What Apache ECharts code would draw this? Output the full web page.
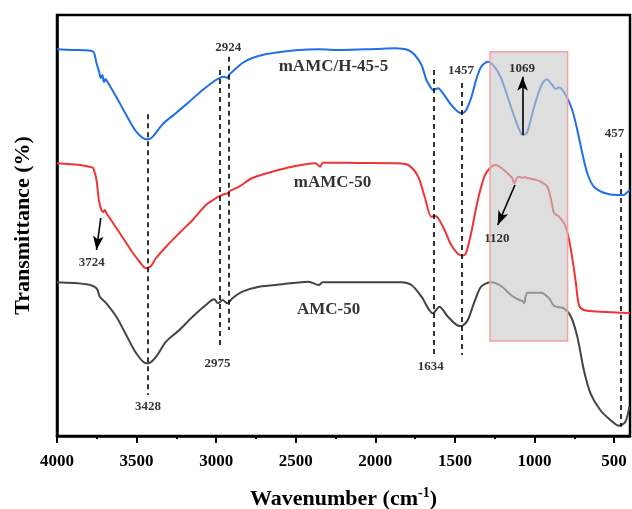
<!DOCTYPE html>
<html>
<head>
<meta charset="utf-8">
<script src="https://cdn.jsdelivr.net/npm/echarts@6/dist/echarts.min.js"></script>
<style>html,body{margin:0;padding:0;background:#fff}#c{width:632px;height:509px}</style>
</head>
<body>
<div id="c"></div>
<script>
// ---- data (wavenumber cm-1, relative transmittance) ----
const blueName = 'mAMC/H-45-5';
const bluePts = [[4000,386.7],[3900,386],[3800,385.5],[3770,384],[3752,373],[3735,364],[3725,358],[3715,361],[3705,354],[3695,357],[3690,356],[3627,339],[3565,321],[3502,304.3],[3440,296.7],[3420,297],[3398,299.3],[3335,312],[3252,323],[3169,334.3],[3085,346],[3002,356],[2981,357.7],[2965,359],[2950,359.3],[2929,358],[2915,362],[2898,364.3],[2835,373],[2773,378],[2690,381.7],[2585,384.3],[2481,386],[2356,386.7],[2210,386],[2000,387],[1877,387.7],[1794,386],[1752,381],[1710,371],[1679,356],[1650,348],[1638,346],[1620,347],[1606,347.7],[1575,342.7],[1523,331],[1471,323.3],[1450,323],[1429,326],[1398,338],[1367,356],[1335,369.3],[1294,374.3],[1252,369.3],[1210,358],[1169,339.3],[1127,319.3],[1095,306],[1075,301],[1055,302],[1044,304.3],[1002,329.3],[960,349.3],[923,356.7],[888,351],[867,347],[846,348.7],[804,341],[763,326],[731,306],[700,283],[669,263],[627,249.3],[565,243.3],[481,241],[440,241],[414,244.3],[400,246]];
const redName = 'mAMC-50';
const redPts = [[4000,272.7],[3856,271],[3790,269],[3773,268],[3752,256],[3737,236],[3721,226],[3710,224],[3700,226],[3690,223],[3648,213],[3606,203],[3565,193],[3523,183],[3480,174],[3440,167.7],[3410,170],[3377,178],[3315,189.3],[3231,203],[3148,216],[3065,231],[3010,237],[2987,239.3],[2970,240.5],[2955,241.5],[2929,242.7],[2915,245],[2856,249.3],[2773,258],[2648,264.3],[2523,269.3],[2377,272.7],[2346,269.3],[2330,273.3],[2100,273],[1877,272.7],[1794,271],[1731,259.3],[1690,239.3],[1648,219.3],[1625,220],[1606,218],[1565,206],[1523,191],[1471,181],[1450,180.5],[1430,183],[1398,203],[1356,236],[1315,259.3],[1280,268],[1244,271],[1200,267],[1169,262.7],[1140,258],[1127,252.7],[1110,258],[1096,259.3],[1075,258],[1060,259],[1044,258],[1000,256.5],[960,254.3],[919,249.3],[890,232],[877,222.7],[846,219.3],[804,209.3],[771,186],[740,153],[721,131],[690,126],[587,124.3],[400,123]];
const grayName = 'AMC-50';
const grayPts = [[4000,153.7],[3815,151.7],[3752,147.7],[3731,139.3],[3690,132.7],[3627,119.3],[3565,101],[3502,82.7],[3440,72.7],[3420,73],[3377,79.3],[3315,94.3],[3231,106],[3148,119.3],[3065,131],[3013,136.7],[2987,132.7],[2960,136],[2929,132.7],[2898,137.7],[2835,144.3],[2731,149.3],[2585,151.7],[2419,154.3],[2356,151],[2330,153.7],[1835,153.7],[1773,151],[1710,139.3],[1638,122.7],[1598,129.3],[1544,119.3],[1471,110],[1450,110.5],[1419,116],[1377,134.3],[1335,149.3],[1273,153.7],[1210,150],[1148,141],[1096,136],[1075,135],[1065,132.7],[1055,140],[1044,143.3],[960,143.3],[908,137.7],[877,130],[815,127.7],[771,119.3],[731,99.3],[690,66],[648,42.7],[587,26],[523,16],[469,10.3],[429,14.3],[404,29.3]];

const majorTicks = [4000,3500,3000,2500,2000,1500,1000,500];
const minorTicks = [3750,3250,2750,2250,1750,1250,750];

const peakWn = [3428, 2975, 2924, 1634, 1457, 457];
const peakTop = [321.7, 366, 379.3, 366, 353, 283];
const peakBottom = [41, 89.3, 106, 79.3, 81, 9.3];

const peakLabels = [['3428',3428,29.3],['2975',2992,72.7],['2924',2924,388],['1634',1652,69.3],['1457',1461,365],['1069',1079,367],['1120',1236,197.7],['457',498,302],['3724',3781,173.3]];
const curveLabels = [['mAMC/H-45-5',2263,369.3],['mAMC-50',2269,253.3],['AMC-50',2294,126]];

// arrows: [fromWn, fromT, toWn, toT]
const arrows = [[3725,218,3752,186],[1075,301,1075,359.3],[1123,251,1231,211]];

// highlighted region [wnStart, wnEnd, tBottom, tTop]
const region = [1279, 792, 95, 384.3];

const FONT = '"Liberation Serif","Times New Roman",serif';

const chart = echarts.init(document.getElementById('c'), null, {renderer:'canvas'});

const lineSeries = (name, pts, color) => ({
  name, type:'line', data: pts, showSymbol:false, symbol:'none', smooth:0.3,
  lineStyle:{color, width:2}, z:2, animation:false
});

const option = {
  animation:false,
  backgroundColor:'#fff',
  grid:{left:57, right:2, top:15, bottom:73, outerBoundsMode:'none', containLabel:false, show:true, borderColor:'#000', borderWidth:2.5, backgroundColor:'transparent'},
  xAxis:[{
    type:'value', inverse:true, min:400, max:4000,
    axisLine:{show:true, onZero:false, lineStyle:{color:'#000', width:2.5}},
    axisTick:{show:true, inside:false, length:7, lineStyle:{color:'#000', width:2}, customValues: majorTicks},
    axisLabel:{show:true, margin:17, fontFamily:FONT, fontWeight:'bold', fontSize:17, color:'#000', customValues: majorTicks, formatter: v => String(v)},
    splitLine:{show:false},
    name:'Wavenumber (cm{sup|-1})', nameLocation:'middle', nameGap:50,
    nameTextStyle:{fontFamily:FONT, fontWeight:'bold', fontSize:22, color:'#000',
      rich:{sup:{fontFamily:FONT, fontWeight:'bold', fontSize:14, color:'#000', padding:[0,0,12,0]}}}
  },{
    type:'value', inverse:true, min:400, max:4000, position:'bottom',
    axisLine:{show:false, onZero:false},
    axisTick:{show:true, inside:false, length:3, lineStyle:{color:'#000', width:2}, customValues: minorTicks},
    axisLabel:{show:false},
    splitLine:{show:false}
  }],
  yAxis:{
    type:'value', min:0, max:421,
    axisLine:{show:true, lineStyle:{color:'#000', width:2.5}},
    axisTick:{show:false}, axisLabel:{show:false}, splitLine:{show:false},
    name:'Transmittance (%)', nameLocation:'middle', nameGap:23,
    nameTextStyle:{fontFamily:FONT, fontWeight:'bold', fontSize:22, color:'#000'}
  },
  series:[
    lineSeries(blueName, bluePts, '#1F6FE6'),
    lineSeries(redName, redPts, '#EE3535'),
    lineSeries(grayName, grayPts, '#444444'),
    {
      type:'custom', z:3, silent:true, data:[region],
      renderItem:(params, api) => {
        const p0 = api.coord([api.value(0), api.value(3)]);
        const p1 = api.coord([api.value(1), api.value(2)]);
        return {type:'rect', shape:{x:Math.min(p0[0],p1[0]), y:Math.min(p0[1],p1[1]), width:Math.abs(p1[0]-p0[0]), height:Math.abs(p1[1]-p0[1])},
          style:{fill:'rgba(200,200,200,0.6)', stroke:'#F4A0A0', lineWidth:1.5}};
      },
      encode:{x:[0,1], y:[2,3]}
    },
    {
      type:'line', data:[], z:11, silent:true,
      markLine:{silent:true, z:11, symbol:['none','none'], label:{show:false},
        lineStyle:{color:'#000', type:[5,4], width:1.6},
        data: peakWn.map((w,i)=>[{coord:[w, peakTop[i]]},{coord:[w, peakBottom[i]]}])}
    },
    {
      type:'line', data:[], z:12, silent:true,
      markLine:{silent:true, z:12, symbol:['none','arrow'], symbolSize:[8,14], label:{show:false},
        lineStyle:{color:'#000', type:'solid', width:1.6},
        data: arrows.map(a=>[{coord:[a[0],a[1]]},{coord:[a[2],a[3]]}])}
    },
    {
      type:'scatter', symbolSize:0, z:13, silent:true,
      data: peakLabels.map(l=>({value:[l[1], l[2]], name:l[0]})),
      label:{show:true, position:'inside', formatter:p=>p.name, fontFamily:FONT, fontWeight:'bold', fontSize:13, color:'#000'}
    },
    {
      type:'scatter', symbolSize:0, z:13, silent:true,
      data: curveLabels.map(l=>({value:[l[1], l[2]], name:l[0]})),
      label:{show:true, position:'inside', formatter:p=>p.name, fontFamily:FONT, fontWeight:'bold', fontSize:17, color:'#000'}
    }
  ]
};
chart.setOption(option);
</script>
</body>
</html>
